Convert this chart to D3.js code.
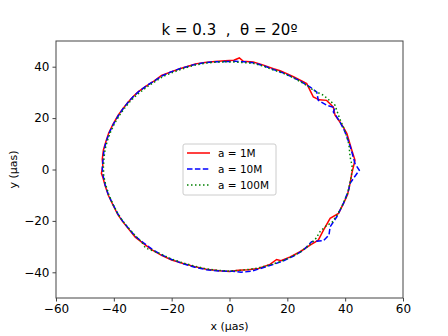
<html>
<head>
<script src="https://d3js.org/d3.v7.min.js"></script>
<style>
  body { margin: 0; background: #fff; }
  text { font-family: "DejaVu Sans", sans-serif; fill: #000; }
  .axis path, .axis line { stroke: #444; }
</style>
</head>
<body>
<svg id="chart" width="448" height="336"></svg>
<script>
const xTicks = [-60, -40, -20, 0, 20, 40, 60];
const yTicks = [-40, -20, 0, 20, 40];
const seriesNames = ["a = 1M", "a = 10M", "a = 100M"];

// red, a = 1M
const ring1M = [[-1.5,42.3],[1.5,42.5],[3.4,43.4],[4.8,42.1],[8.2,41.8],[11.5,40.7],[15.2,39.2],[17.5,38.4],[20.0,37.2],[22.1,36.1],[24.8,34.6],[26.7,33.4],[28.2,30.0],[29.0,28.2],[31.0,27.1],[33.6,26.9],[35.9,24.3],[36.5,21.1],[38.2,18.5],[39.5,16.2],[40.6,14.0],[41.5,10.5],[42.3,7.5],[43.4,3.6],[42.3,-1.5],[41.7,-5.4],[40.8,-9.8],[39.6,-12.8],[37.7,-17.1],[34.8,-19.0],[32.5,-23.6],[30.7,-27.5],[28.0,-29.3],[24.4,-32.0],[21.0,-34.0],[17.8,-35.5],[16.3,-35.0],[14.0,-36.9],[10.0,-38.5],[6.5,-39.0],[3.0,-39.2],[0.0,-39.7],[-3.5,-39.4],[-8.0,-38.8],[-12.0,-37.8],[-16.0,-36.6],[-20.0,-35.2],[-23.5,-33.4],[-26.8,-31.3],[-29.5,-29.0],[-32.6,-26.3],[-35.0,-23.0],[-37.0,-20.2],[-38.6,-17.6],[-40.3,-13.8],[-41.9,-10.0],[-43.0,-6.3],[-43.8,-3.0],[-44.3,-1.5],[-43.8,1.5],[-44.0,4.0],[-43.6,7.6],[-42.7,11.0],[-41.8,14.1],[-40.3,17.6],[-38.5,21.1],[-36.8,23.8],[-35.0,26.3],[-33.3,28.4],[-31.5,30.3],[-28.6,32.6],[-26.0,34.5],[-23.5,36.6],[-20.5,37.9],[-17.2,39.2],[-14.0,40.3],[-11.8,41.1],[-8.5,41.6],[-5.0,42.0],[-1.5,42.3]];

// blue, a = 10M
const ring10M = [[-1.5,42.0],[2.0,42.1],[5.0,41.9],[8.2,41.5],[11.5,40.5],[15.2,38.9],[18.5,37.6],[22.1,35.8],[24.8,34.2],[27.9,32.1],[30.2,30.1],[30.7,26.9],[33.6,25.0],[36.5,24.0],[35.9,22.4],[37.1,20.5],[38.4,18.0],[39.6,15.5],[40.6,12.7],[41.6,9.5],[42.5,6.0],[43.4,2.3],[44.9,-0.3],[43.4,-2.6],[41.7,-5.4],[41.2,-8.0],[39.4,-13.2],[37.1,-18.4],[34.8,-22.3],[34.4,-25.5],[32.5,-27.7],[28.4,-28.1],[25.5,-31.5],[22.0,-33.8],[18.5,-35.6],[15.0,-37.0],[11.0,-38.4],[7.5,-39.6],[4.0,-40.0],[1.0,-39.6],[-3.5,-39.5],[-8.0,-39.0],[-12.0,-38.0],[-16.0,-36.7],[-20.0,-35.0],[-23.5,-33.2],[-26.8,-31.0],[-29.5,-28.7],[-32.6,-26.0],[-35.0,-22.8],[-37.0,-20.0],[-38.6,-17.3],[-40.3,-13.6],[-41.9,-9.8],[-43.0,-6.0],[-43.7,-2.5],[-44.0,0.5],[-43.7,4.0],[-43.4,7.6],[-42.6,11.0],[-41.6,14.2],[-40.1,17.8],[-38.3,21.2],[-36.6,24.0],[-34.8,26.5],[-33.0,28.7],[-31.2,30.5],[-28.4,32.8],[-25.8,34.6],[-23.2,36.5],[-20.2,38.0],[-17.0,39.3],[-13.8,40.3],[-11.5,41.0],[-8.3,41.6],[-4.8,41.9],[-1.5,42.0]];

// green, a = 100M
const ring100M = [[-1.5,41.9],[2.0,41.8],[5.0,41.6],[8.2,41.3],[11.5,40.3],[15.2,38.7],[18.5,37.5],[22.1,35.7],[24.8,34.0],[27.5,32.2],[29.0,30.8],[32.5,28.9],[36.5,25.0],[37.1,23.0],[38.1,19.8],[39.4,16.5],[40.5,13.0],[41.3,9.8],[41.7,4.9],[42.4,1.5],[42.2,-2.0],[41.6,-5.5],[40.8,-9.5],[39.3,-13.3],[37.6,-17.0],[35.5,-20.5],[33.0,-22.3],[31.3,-24.2],[29.9,-26.8],[27.5,-29.5],[24.4,-32.2],[21.0,-34.2],[17.5,-35.9],[14.0,-37.1],[10.0,-38.3],[6.5,-38.9],[3.0,-39.3],[0.0,-39.5],[-3.5,-39.3],[-8.0,-38.7],[-12.0,-37.6],[-16.0,-36.4],[-20.0,-34.9],[-23.5,-33.0],[-26.5,-31.6],[-29.0,-30.6],[-30.5,-28.0],[-32.6,-25.8],[-35.0,-22.7],[-37.0,-19.9],[-38.6,-17.2],[-40.3,-13.5],[-41.7,-9.8],[-42.8,-6.0],[-43.5,-2.5],[-43.6,1.0],[-43.4,4.5],[-43.0,8.0],[-42.2,11.3],[-41.2,14.4],[-39.8,17.8],[-38.1,21.0],[-36.4,23.7],[-34.6,26.2],[-32.8,28.3],[-31.0,30.0],[-28.2,32.4],[-25.6,34.3],[-23.0,36.2],[-20.0,37.6],[-16.8,39.0],[-13.6,40.1],[-11.3,40.8],[-8.1,41.4],[-4.6,41.8],[-1.5,41.9]];

const svg = d3.select("#chart");
const margin = { top: 41, right: 45, bottom: 38, left: 56 };
const width = 448 - margin.left - margin.right;
const height = 336 - margin.top - margin.bottom;

const x = d3.scaleLinear().domain([-60, 60]).range([0, width]);
const y = d3.scaleLinear().domain([-50, 50]).range([height, 0]);

const g = svg.append("g").attr("transform", `translate(${margin.left},${margin.top})`);

const styles = [
  { data: ring1M, color: "#ff0000", dash: null },
  { data: ring10M, color: "#0000ff", dash: "5.5,2.4" },
  { data: ring100M, color: "#008000", dash: "1.5,2.5" }
];

const line = d3.line().x(d => x(d[0])).y(d => y(d[1]));

styles.forEach(s => {
  g.append("path")
    .datum(s.data)
    .attr("d", line)
    .attr("fill", "none")
    .attr("stroke", s.color)
    .attr("stroke-width", 1.5)
    .attr("stroke-dasharray", s.dash);
});

// frame
g.append("rect")
  .attr("width", width).attr("height", height)
  .attr("fill", "none").attr("stroke", "#444").attr("stroke-width", 1);

const xAxis = g.append("g").attr("class", "axis")
  .attr("transform", `translate(0,${height})`)
  .call(d3.axisBottom(x).tickValues(xTicks).tickSizeOuter(0).tickSize(3.5).tickPadding(3));
const yAxis = g.append("g").attr("class", "axis")
  .call(d3.axisLeft(y).tickValues(yTicks).tickSizeOuter(0).tickSize(3.5).tickPadding(3));
[xAxis, yAxis].forEach(a => {
  a.select(".domain").remove();
  a.selectAll("text").attr("font-size", 12).attr("font-family", "DejaVu Sans");
});

svg.append("text")
  .attr("x", margin.left + width / 2).attr("y", 35)
  .attr("text-anchor", "middle").attr("font-size", 15)
  .style("white-space", "pre")
  .text("k = 0.3  ,  θ = 20º");

svg.append("text")
  .attr("x", margin.left + width / 2).attr("y", 330)
  .attr("text-anchor", "middle").attr("font-size", 11)
  .text("x (µas)");

svg.append("text")
  .attr("transform", `translate(17,${margin.top + height / 2}) rotate(-90)`)
  .attr("text-anchor", "middle").attr("font-size", 11)
  .text("y (µas)");

// legend
const leg = svg.append("g").attr("transform", "translate(183,144)");
leg.append("rect")
  .attr("width", 93).attr("height", 51).attr("rx", 2)
  .attr("fill", "#fff").attr("fill-opacity", 0.8)
  .attr("stroke", "#ccc").attr("stroke-width", 1);
styles.forEach((s, i) => {
  const cy = 9 + i * 16;
  leg.append("line")
    .attr("x1", 4).attr("x2", 27).attr("y1", cy).attr("y2", cy)
    .attr("stroke", s.color).attr("stroke-width", 1.5)
    .attr("stroke-dasharray", s.dash);
  leg.append("text")
    .attr("x", 35).attr("y", cy + 4)
    .attr("font-size", 10.5)
    .text(seriesNames[i]);
});
</script>
</body>
</html>
